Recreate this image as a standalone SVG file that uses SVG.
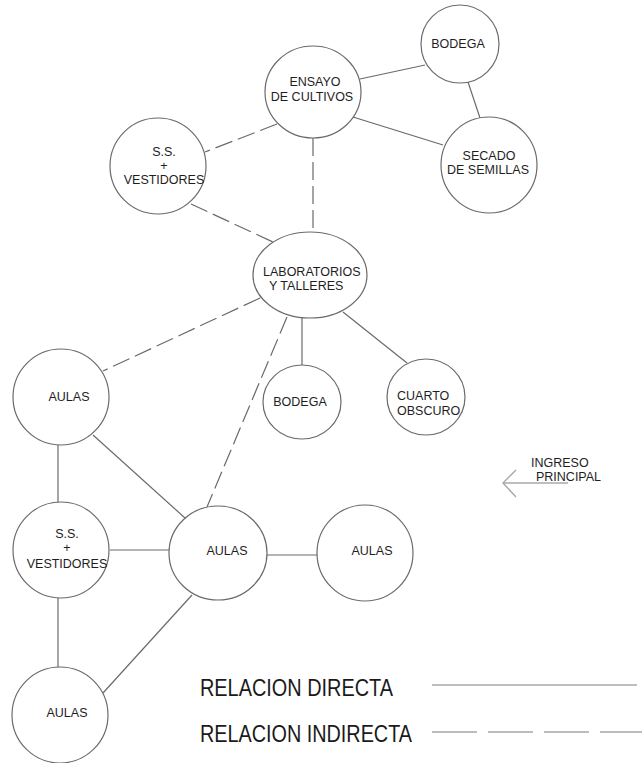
<svg xmlns="http://www.w3.org/2000/svg" width="642" height="763" viewBox="0 0 642 763">
  <style>
    .node { fill: #ffffff; stroke: #6a6a6a; stroke-width: 1.2; }
    .lbl { font-family: "Liberation Sans", Arial, sans-serif; font-size: 12.5px; fill: #1e1e1e; }
    .mid { text-anchor: middle; }
    .direct { stroke: #6a6a6a; stroke-width: 1.2; fill: none; }
    .indirect { stroke: #6a6a6a; stroke-width: 1.2; fill: none; stroke-dasharray: 18 6; }
    .legend { font-family: "Liberation Sans", Arial, sans-serif; font-size: 24.5px; fill: #1a1a1a; }
    .legline { stroke: #a8a8a8; stroke-width: 1.4; fill: none; }
  </style>

  <rect width="642" height="763" fill="#ffffff"/>

  <!-- relations between spaces -->
  <g id="connectors">
    <line class="direct" x1="360" y1="79" x2="425" y2="65"/>
    <line class="direct" x1="468" y1="82" x2="480" y2="118"/>
    <line class="direct" x1="353" y1="117" x2="443" y2="145"/>
    <line class="direct" x1="302" y1="318" x2="302" y2="365"/>
    <line class="direct" x1="343" y1="312" x2="407" y2="363"/>
    <line class="direct" x1="58" y1="445" x2="58" y2="503"/>
    <line class="direct" x1="93" y1="435" x2="185" y2="518"/>
    <line class="direct" x1="110" y1="550" x2="170" y2="550"/>
    <line class="direct" x1="267" y1="555" x2="317" y2="555"/>
    <line class="direct" x1="58" y1="597" x2="58" y2="668"/>
    <line class="direct" x1="192" y1="595" x2="103" y2="693"/>

    <line class="indirect" x1="277" y1="124" x2="205" y2="152"/>
    <line class="indirect" x1="313" y1="138" x2="313" y2="232"/>
    <line class="indirect" x1="191" y1="204" x2="273" y2="242"/>
    <line class="indirect" x1="260" y1="298" x2="103" y2="371"/>
    <line class="indirect" x1="287" y1="317" x2="207" y2="507"/>
  </g>

  <g id="bodega-top">
    <circle class="node" cx="460" cy="44" r="39"/>
    <text class="lbl mid" x="458" y="48">BODEGA</text>
  </g>

  <g id="ensayo-cultivos">
    <ellipse class="node" cx="313" cy="92" rx="48" ry="46"/>
    <text class="lbl mid" x="315" y="86">ENSAYO</text>
    <text class="lbl mid" x="312" y="101">DE CULTIVOS</text>
  </g>

  <g id="secado-semillas">
    <circle class="node" cx="489" cy="165" r="48"/>
    <text class="lbl mid" x="489" y="160">SECADO</text>
    <text class="lbl mid" x="488" y="174">DE SEMILLAS</text>
  </g>

  <g id="ss-vestidores-top">
    <circle class="node" cx="158" cy="166" r="48"/>
    <text class="lbl mid" x="164" y="156">S.S.</text>
    <text class="lbl mid" x="164" y="170" font-size="9">+</text>
    <text class="lbl mid" x="164" y="184">VESTIDORES</text>
  </g>

  <g id="laboratorios">
    <ellipse class="node" cx="310" cy="275" rx="57" ry="43"/>
    <text class="lbl" x="263" y="276">LABORATORIOS</text>
    <text class="lbl" x="269" y="290">Y TALLERES</text>
  </g>

  <g id="aulas-1">
    <circle class="node" cx="61" cy="397" r="48"/>
    <text class="lbl mid" x="69" y="401">AULAS</text>
  </g>

  <g id="bodega-mid">
    <ellipse class="node" cx="302" cy="402" rx="39" ry="37"/>
    <text class="lbl mid" x="300" y="406">BODEGA</text>
  </g>

  <g id="cuarto-obscuro">
    <ellipse class="node" cx="426" cy="397" rx="39" ry="38"/>
    <text class="lbl" x="397" y="400">CUARTO</text>
    <text class="lbl" x="397" y="415">OBSCURO</text>
  </g>

  <g id="ss-vestidores-bottom">
    <circle class="node" cx="61" cy="550" r="48"/>
    <text class="lbl mid" x="67" y="538">S.S.</text>
    <text class="lbl mid" x="67" y="552" font-size="9">+</text>
    <text class="lbl mid" x="67" y="568">VESTIDORES</text>
  </g>

  <g id="aulas-2">
    <ellipse class="node" cx="218" cy="553" rx="49" ry="47"/>
    <text class="lbl mid" x="227" y="555">AULAS</text>
  </g>

  <g id="aulas-3">
    <circle class="node" cx="365" cy="553" r="48"/>
    <text class="lbl mid" x="372" y="555">AULAS</text>
  </g>

  <g id="aulas-4">
    <circle class="node" cx="60" cy="715" r="48"/>
    <text class="lbl mid" x="67" y="717" font-size="11.5">AULAS</text>
  </g>

  <!-- main entrance marker -->
  <g id="ingreso">
    <polyline class="legline" points="516,470 503,483 516,497" stroke="#999"/>
    <line class="legline" x1="503" y1="483" x2="568" y2="483" stroke="#999"/>
    <text class="lbl" x="531" y="467">INGRESO</text>
    <text class="lbl" x="536" y="481">PRINCIPAL</text>
  </g>

  <!-- legend -->
  <g id="legend">
    <text class="legend" x="200" y="696" textLength="193" lengthAdjust="spacingAndGlyphs">RELACION DIRECTA</text>
    <text class="legend" x="200" y="742" textLength="212" lengthAdjust="spacingAndGlyphs">RELACION INDIRECTA</text>
    <line class="legline" x1="432" y1="685" x2="637" y2="685"/>
    <line class="legline" x1="432" y1="732" x2="642" y2="732" stroke-dasharray="45 11"/>
  </g>
</svg>
